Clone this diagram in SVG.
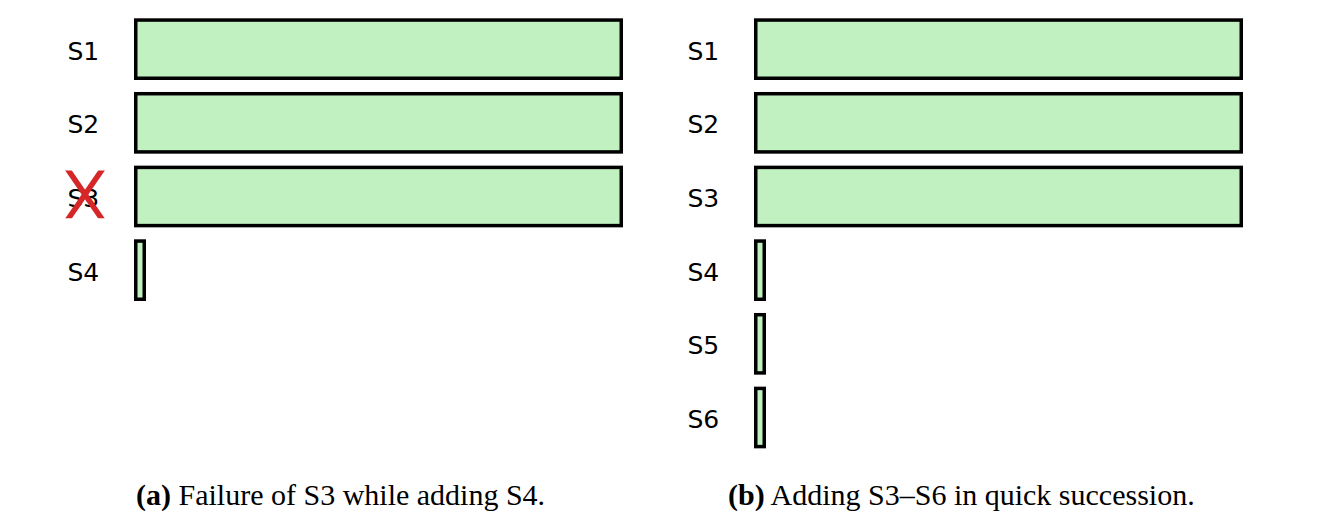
<svg xmlns="http://www.w3.org/2000/svg" width="1320" height="524" viewBox="0 0 1320 524">
<style>
.bar{fill:#c1f0c1;stroke:#000;stroke-width:3.5}
.lbl{font-family:"DejaVu Sans",sans-serif;font-size:25px;fill:#000}
.cap{font-family:"Liberation Serif","Times New Roman",serif;font-size:30px;fill:#000}
.x{stroke:#d62728;stroke-width:5.5;stroke-linecap:butt}
</style>
<defs>
<clipPath id="xclip"><rect x="55" y="170.5" width="60" height="47.8"/></clipPath>
</defs>
<rect width="1320" height="524" fill="#fff"/>
<g id="panel-a">
<g id="a-s1"><text class="lbl" x="67.5" y="59.7">S1</text><rect class="bar" x="135.75" y="20.05" width="485.5" height="58.2"/></g>
<g id="a-s2"><text class="lbl" x="67.5" y="133.4">S2</text><rect class="bar" x="135.75" y="93.72" width="485.5" height="58.2"/></g>
<g id="a-s3"><text class="lbl" x="67.5" y="207.0">S3</text><rect class="bar" x="135.75" y="167.4" width="485.5" height="58.2"/>
<g clip-path="url(#xclip)"><line class="x" x1="64" y1="164" x2="106" y2="225"/><line class="x" x1="106" y1="164" x2="64" y2="225"/></g></g>
<g id="a-s4"><text class="lbl" x="67.5" y="280.7">S4</text><rect class="bar" x="135.75" y="241.05" width="8.5" height="58.2"/></g>
<text class="cap" x="136" y="504.5"><tspan font-weight="bold">(a)</tspan> Failure of S3 while adding S4.</text>
</g>
<g id="panel-b">
<g id="b-s1"><text class="lbl" x="687.5" y="59.7">S1</text><rect class="bar" x="755.75" y="20.05" width="485.5" height="58.2"/></g>
<g id="b-s2"><text class="lbl" x="687.5" y="133.4">S2</text><rect class="bar" x="755.75" y="93.72" width="485.5" height="58.2"/></g>
<g id="b-s3"><text class="lbl" x="687.5" y="207.0">S3</text><rect class="bar" x="755.75" y="167.4" width="485.5" height="58.2"/></g>
<g id="b-s4"><text class="lbl" x="687.5" y="280.7">S4</text><rect class="bar" x="755.75" y="241.05" width="8.5" height="58.2"/></g>
<g id="b-s5"><text class="lbl" x="687.5" y="354.4">S5</text><rect class="bar" x="755.75" y="314.72" width="8.5" height="58.2"/></g>
<g id="b-s6"><text class="lbl" x="687.5" y="428.0">S6</text><rect class="bar" x="755.75" y="388.4" width="8.5" height="58.2"/></g>
<text class="cap" x="728" y="504.5"><tspan font-weight="bold">(b)</tspan> Adding S3–S6 in quick succession.</text>
</g>
<g id="connectors"/>
</svg>
